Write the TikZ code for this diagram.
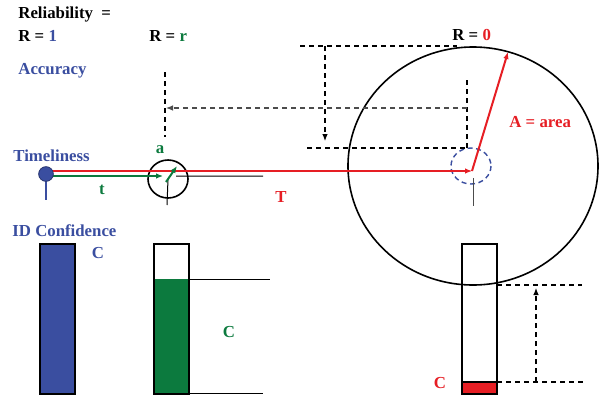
\documentclass[tikz,border=0pt]{standalone}
\usepackage{fontspec}
\setmainfont{Liberation Serif}
\usetikzlibrary{arrows.meta}
\definecolor{relblue}{RGB}{58,78,160}
\definecolor{relgreen}{RGB}{12,122,62}
\definecolor{relred}{RGB}{230,30,36}
\begin{document}
\begin{tikzpicture}[
  x=0.5pt,y=-0.5pt,
  lbl/.style={inner sep=0pt,font=\fontsize{8.4}{10}\selectfont\bfseries},
  hair/.style={line width=0.5pt},
  ring/.style={line width=0.8pt},
  bar/.style={draw=black,line width=1pt},
  dashline/.style={line width=0.55pt,dash pattern=on 2.5pt off 2pt},
  tip/.style={-{Latex[length=3.5pt,width=2.8pt]}},
  srcdot/.style={circle,fill=relblue,draw=relblue!70!black,inner sep=2.6pt}]
  \useasboundingbox (0,0) rectangle (600,397);
  \coordinate (S) at (46,174);
  \coordinate (SR) at (46,171);
  \coordinate (SG) at (46,176);
  \coordinate (SB) at (46,200);
  \coordinate (SC) at (168,179);
  \coordinate (SCa) at (163,176);
  \coordinate (SCg) at (166,182);
  \coordinate (SCh) at (177,166);
  \coordinate (SCd) at (167,205);
  \coordinate (SCl) at (176,176);
  \coordinate (SCr) at (263,176);
  \coordinate (BC) at (473,166);
  \coordinate (BP) at (472,171);
  \coordinate (BE) at (508,52);
  \coordinate (BD) at (471,166);
  \coordinate (BDa) at (473,178);
  \coordinate (BDb) at (473,206);
  \draw[ring] (BC) ellipse [x radius=125,y radius=119];
  \draw[ring] (SC) ellipse [x radius=20,y radius=19];
  \draw[relblue,line width=0.7pt,dash pattern=on 2.5pt off 1.8pt] (BD) ellipse [x radius=20,y radius=18];
  \draw[hair,black!70] (BDa)--(BDb);
  \draw[hair] (SC)--(SCd) (SCl)--(SCr);
  \draw[relblue,line width=0.9pt] (S)--(SB);
  \draw[relred,line width=0.6pt,tip] (SR)--(BP);
  \draw[relred,line width=1pt,tip] (BP)--(BE);
  \draw[relgreen,line width=0.6pt,tip] (SG)--(SCa);
  \draw[relgreen,line width=1pt,tip] (SCg)--(SCh);
  \node[srcdot] (src) at (S) {};
  \draw[dashline] (300,46)--(457,46);
  \draw[dashline,tip] (325,46)--(325,141);
  \draw[dashline] (307,148)--(467,148) (467,80)--(467,148);
  \draw[dashline,black!70,tip] (467,108)--(166,108);
  \draw[dashline] (165,72)--(165,137);
  \fill[relblue] (40,244) rectangle (75,394);
  \draw[bar] (40,244) rectangle (75,394);
  \fill[relgreen] (154,279) rectangle (189,394);
  \draw[bar] (154,244) rectangle (189,394);
  \draw[hair] (189,279)--(270,279) (189,393)--(263,393);
  \fill[relred] (462,382) rectangle (497,394);
  \draw[bar] (462,244) rectangle (497,394);
  \draw[bar,line width=0.6pt] (462,382)--(497,382);
  \draw[dashline] (497,285)--(582,285) (497,382)--(586,382);
  \draw[dashline,tip] (536,382)--(536,288);
  \node[lbl,anchor=west] (rel) at (18,14) {Reliability\ \ =};
  \node[lbl,anchor=west] (r1) at (18,36) {R = \textcolor{relblue}{1}};
  \node[lbl,anchor=west] (rr) at (149,36) {R = \textcolor{relgreen}{r}};
  \node[lbl,anchor=west] (r0) at (452,35) {R = \textcolor{relred}{0}};
  \node[lbl,anchor=west,relblue] (acc) at (18,71) {Accuracy};
  \node[lbl,anchor=west,relblue] (tim) at (13,156) {Timeliness};
  \node[lbl,relgreen] (a) at (160,150) {a};
  \node[lbl,relgreen] (t) at (102,190) {t};
  \node[lbl,relred] (T) at (281,197) {T};
  \node[lbl,anchor=west,relred] (area) at (509,122) {A = area};
  \node[lbl,anchor=west,relblue] (idc) at (12,231) {ID Confidence};
  \node[lbl,relblue] (c1) at (98,253) {C};
  \node[lbl,relgreen] (c2) at (229,332) {C};
  \node[lbl,relred] (c3) at (440,383) {C};
\end{tikzpicture}
\end{document}
